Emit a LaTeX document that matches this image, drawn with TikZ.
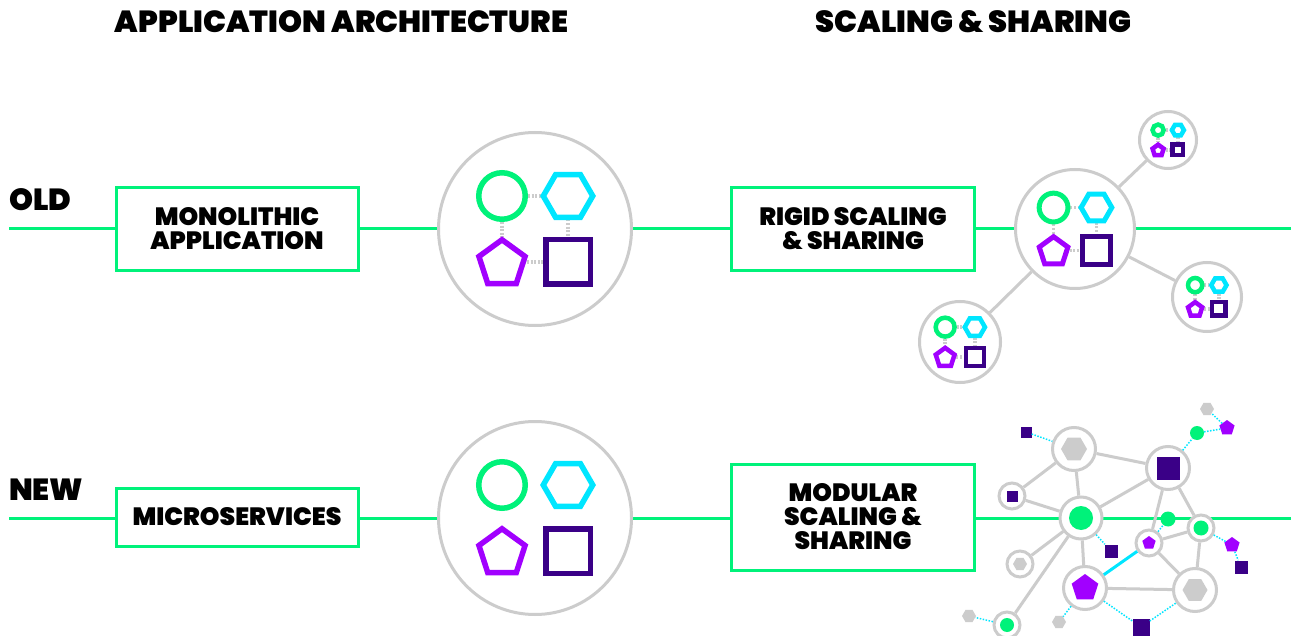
\documentclass[tikz,border=0pt]{standalone}
\usepackage{fontspec}
\setmainfont{Poppins}[UprightFont={* Black},BoldFont={* Black}]
\usetikzlibrary{shapes.geometric}
\definecolor{mygreen}{RGB}{0,242,122}
\definecolor{mycyan}{RGB}{0,230,255}
\definecolor{mypurple}{RGB}{161,0,255}
\definecolor{mydark}{RGB}{58,0,135}
\definecolor{ringgray}{RGB}{204,204,204}
\tikzset{
  ttl/.style={font=\fontsize{30.5}{30}\selectfont, inner sep=0pt},
  gbox/.style={draw=mygreen, line width=3, fill=white, align=center, inner sep=0pt,
     font=\fontsize{25}{24}\selectfont},
  gline/.style={draw=mygreen, line width=3},
  ring/.style={circle, draw=ringgray, line width=3, fill=white, inner sep=0pt},
  link/.style={draw=ringgray, line width=3},
  qdash/.style={draw=ringgray, dash pattern=on 2 off 1.6},
  netnode/.style={circle, draw=ringgray, line width=3, fill=white, inner sep=0pt, minimum size=#1},
  fsq/.style={rectangle, fill=mydark, inner sep=0pt, minimum size=#1},
  fpent/.style={regular polygon, regular polygon sides=5, fill=mypurple, inner sep=0pt, minimum size=#1},
  fhex/.style={regular polygon, regular polygon sides=6, fill=ringgray, inner sep=0pt, minimum size=#1},
  fdot/.style={circle, fill=mygreen, inner sep=0pt, minimum size=#1},
  dlink/.style={draw=mycyan, line width=1.5, dash pattern=on 1.5 off 1.5},
}
% #1 x, #2 y, #3 scale, #4 stroke, #5 ring outer radius, #6 dashes (1/0), #7 name
\newcommand\shapequad[7]{%
\begin{scope}[shift={(#1,#2)}]
  \pgfmathsetmacro\qd{33*#3}
  \pgfmathsetmacro\qc{26*#3-#4/2}
  \pgfmathsetmacro\qh{27.5*#3-#4/2}
  \pgfmathsetmacro\qp{27*#3-#4/2}
  \pgfmathsetmacro\qs{25*#3-#4/2}
  \pgfmathsetmacro\qy{\qd+2*#3}
  \pgfmathsetmacro\qw{0.75*#4}
  \node[ring, minimum size={2*#5-3}] (#7) at (0,0) {};
  \ifnum#6=1
    \draw[qdash, line width=\qw] ({-\qd+26*#3},-\qd) -- ({\qd-27.5*#3},-\qd);
    \draw[qdash, line width=\qw] (-\qd,{-\qd+26*#3}) -- (-\qd,{\qy-27*#3});
    \draw[qdash, line width=\qw] (\qd,{-\qd+23.5*#3}) -- (\qd,{\qd-25*#3});
    \draw[qdash, line width=\qw] ({-\qd+25*#3},\qd) -- ({\qd-25*#3},\qd);
  \fi
  \draw[mygreen, line width=#4] (-\qd,-\qd) circle[radius=\qc];
  \draw[mycyan, line width=#4, line join=miter] ({\qd+\qh},-\qd) -- ++(120:\qh) -- ++(180:\qh)
      -- ++(240:\qh) -- ++(300:\qh) -- ++(0:\qh) -- cycle;
  \draw[mypurple, line width=#4, line join=miter] (-\qd,\qy) +(-90:\qp) -- +(-18:\qp) -- +(54:\qp)
      -- +(126:\qp) -- +(198:\qp) -- cycle;
  \draw[mydark, line width=#4, line join=miter] ({\qd-\qs},{\qd-\qs}) rectangle ({\qd+\qs},{\qd+\qs});
\end{scope}}
\begin{document}
\begin{tikzpicture}[x=1pt, y=-1pt]
\useasboundingbox[fill=white] (0,0) rectangle (1293,636);

% headings
\node[ttl, anchor=base] (h1) at (341.5,33) {APPLICATION ARCHITECTURE};
\node[ttl, anchor=base] (h2) at (973.5,33) {SCALING \& SHARING};
\node[ttl, anchor=base west] (old) at (9,211) {OLD};
\node[ttl, anchor=base west] (new) at (9,500) {NEW};

% green lines
\coordinate (lo) at (9,229);
\coordinate (ro) at (1291,229);
\coordinate (ln) at (9,518);
\coordinate (rn) at (1291,518);
\draw[gline] (lo) -- (ro);
\draw[gline] (ln) -- (rn);

% boxes
\node[gbox, minimum width=242, minimum height=83] (b1) at (237,229) {MONOLITHIC\\APPLICATION};
\node[gbox, minimum width=242, minimum height=58] (b2) at (237,517) {MICROSERVICES};
\node[gbox, minimum width=243, minimum height=83] (b3) at (853,229) {RIGID SCALING\\\& SHARING};
\node[gbox, minimum width=243, minimum height=106] (b4) at (853,517) {MODULAR\\SCALING \&\\SHARING};

% big circles
\shapequad{535}{229}{1}{5.5}{98}{1}{q1}
\shapequad{535}{518}{1}{5.5}{98}{0}{q3}

% old cluster
\shapequad{1168}{140}{0.3}{4.5}{30}{1}{qt}
\shapequad{1207}{297}{0.36}{4.5}{36}{1}{qr}
\shapequad{960}{342}{0.45}{4.5}{42}{1}{qb}
\shapequad{1075}{229}{0.65}{5}{61}{1}{qm}
\draw[link] (qt) -- (qm);
\draw[link] (qr) -- (qm);
\draw[link] (qb) -- (qm);

% network nodes
\node[netnode=43] (N1) at (1074,449) {};
\node[netnode=43] (N2) at (1168,468) {};
\node[netnode=26] (N3) at (1012,496) {};
\node[netnode=42] (N4) at (1081,518) {};
\node[netnode=26] (N5) at (1020,564) {};
\node[netnode=43] (N6) at (1085,588) {};
\node[netnode=26] (N7) at (1149,543) {};
\node[netnode=26] (N8) at (1201,528) {};
\node[netnode=43] (N9) at (1195,590) {};
\node[netnode=26] (N10) at (1007,625) {};

% free shapes
\node[fsq=11] (F1) at (1026,432) {};
\node[fdot=14] (F2) at (1197,433) {};
\node[fpent=16] (F3) at (1227,428) {};
\node[fhex=14] (F4) at (1207,409) {};
\node[fdot=15] (F5) at (1168,519) {};
\node[fsq=13] (F6) at (1111,551) {};
\node[fpent=16] (F7) at (1232,545) {};
\node[fsq=13] (F8) at (1241,567) {};
\node[fsq=17] (F9) at (1141,627) {};
\node[fhex=14] (F10) at (1059,622) {};
\node[fhex=14] (F11) at (969,616) {};

% network edges
\draw[link] (N1) -- (N2);
\draw[link] (N1) -- (N3);
\draw[link] (N1) -- (N4);
\draw[link] (N3) -- (N4);
\draw[link] (N2) -- (N4);
\draw[link] (N2) -- (N7);
\draw[link] (N2) -- (N8);
\draw[link] (N4) -- (N5);
\draw[link] (N4) -- (N6);
\draw[link] (N4) -- (N10);
\draw[link] (N7) -- (N8);
\draw[link] (N7) -- (N9);
\draw[link] (N8) -- (N9);
\draw[link] (N6) -- (N9);
\draw[draw=mycyan, line width=3] (N6) -- (N7);

\draw[dlink] (F1) -- (N1);
\draw[dlink] (N2) -- (F2);
\draw[dlink] (F2) -- (F3);
\draw[dlink] (F3) -- (F4);
\draw[dlink] (N4) -- (F6);
\draw[dlink] (N7) -- (F5);
\draw[dlink] (N8) -- (F7);
\draw[dlink] (F7) -- (F8);
\draw[dlink] (N6) -- (F10);
\draw[dlink] (N6) -- (F9);
\draw[dlink] (F9) -- (N9);
\draw[dlink] (N10) -- (F11);

% inner shapes of network nodes
\node[fhex=26] (N1i) at (N1) {};
\node[fsq=23] (N2i) at (N2) {};
\node[fsq=11] (N3i) at (N3) {};
\node[fdot=24] (N4i) at (N4) {};
\node[fhex=14] (N5i) at (N5) {};
\node[fpent=28] (N6i) at (N6) {};
\node[fpent=14] (N7i) at (N7) {};
\node[fdot=15] (N8i) at (N8) {};
\node[fhex=25] (N9i) at (N9) {};
\node[fdot=14] (N10i) at (N10) {};
\end{tikzpicture}
\end{document}
